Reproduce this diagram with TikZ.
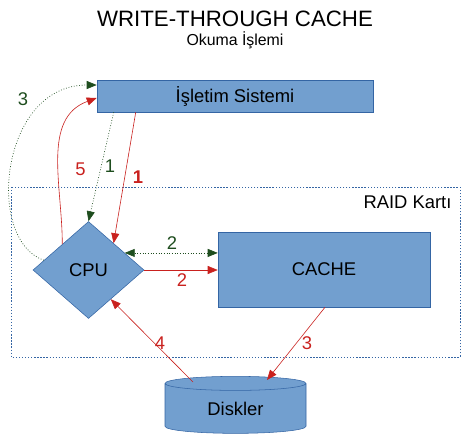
\documentclass[tikz,border=0pt]{standalone}
\usepackage{fontspec}
\setmainfont{Liberation Sans}
\usetikzlibrary{shapes.geometric,arrows.meta,calc}
\definecolor{kutudolgu}{HTML}{729FCF}
\definecolor{kutucizgi}{HTML}{3465A4}
\definecolor{okkirmizi}{HTML}{C9211E}
\definecolor{okyesil}{HTML}{1E4D1E}
\tikzset{
  blok/.style={draw=kutucizgi, fill=kutudolgu, inner sep=0pt, font=\fontsize{13.8}{16}\selectfont},
  etiket/.style={inner sep=0pt, font=\fontsize{13.8}{16}\selectfont},
  ucgen/.style={-{Triangle[length=7.5pt,width=6pt]}},
  kirmizi/.style={draw=okkirmizi, line width=0.45pt, ucgen},
  yesil/.style={draw=okyesil, line width=0.5pt, dash pattern=on 0.6pt off 1.4pt, ucgen}
}
\begin{document}
\begin{tikzpicture}[x=0.75pt,y=0.75pt]
    \useasboundingbox (0,0) rectangle (469,-447);
    %baslik
    \node[inner sep=0pt, font=\fontsize{16.7}{20}\selectfont] (baslik) at (235,-18.5) {WRITE-THROUGH CACHE};
    \node[inner sep=0pt, font=\fontsize{11.9}{14}\selectfont] (altbaslik) at (235,-40) {Okuma İşlemi};
    %kutular
    \draw[kutucizgi, line width=0.6pt, dash pattern=on 1pt off 1.3pt] (11,-187) rectangle (460,-357);
    \node[etiket] (raid) at (407.5,-202) {RAID Kartı};
    \node[blok, minimum width=207pt, minimum height=24pt] (os) at (235,-96) {İşletim Sistemi};
    \node[blok, minimum width=159pt, minimum height=56.25pt] (cache) at (324,-269.5) {CACHE};
    \node[blok, diamond, aspect=1.14, minimum width=83.25pt, minimum height=72.75pt] (cpu) at (88.5,-270) {CPU};
    \node[blok, cylinder, shape border rotate=90, aspect=0.25, minimum width=105.75pt, minimum height=42.75pt] (disk) at (235.5,-408.5) {\raisebox{-2.25pt}{Diskler}};
    %oklar
    \draw[yesil] ($(os.south west)+(17,0)$) -- (cpu.north);
    \draw[kirmizi] ($(os.south west)+(39,0)$) -- ($(cpu.north)!0.45!(cpu.east)$);
    \draw[kirmizi] ($(cpu.west)!0.53!(cpu.north)$) to[out=90,in=200] ($(os.west)+(0,-2)$);
    \draw[yesil] ($(cpu.west)!0.2!(cpu.north)$) .. controls (-15,-240) and (0,-85) .. ($(os.west)+(0,11)$);
    \coordinate (iki) at ($(cpu.north)!0.65!(cpu.east)$);
    \draw[yesil, {Triangle[length=7.5pt,width=6pt]}-{Triangle[length=7.5pt,width=6pt]}] (iki) -- (iki -| cache.west);
    \draw[kirmizi] (cpu.east) -- (cpu.east -| cache.west);
    \draw[kirmizi] ($(cache.south)+(1,0)$) -- ($(disk.center)+(31.5,28.5)$);
    \draw[kirmizi] ($(disk.center)+(-42.5,26.5)$) -- ($(cpu.east)!0.6!(cpu.south)$);
    %numaralar
    \node[etiket, text=okyesil] (y1) at (110,-166) {1};
    \node[etiket, text=okkirmizi, font=\fontsize{13.8}{16}\selectfont\bfseries] (k1) at (138,-177) {1};
    \node[etiket, text=okkirmizi] (k5) at (80.5,-169.5) {5};
    \node[etiket, text=okyesil] (y3) at (23,-99.5) {3};
    \node[etiket, text=okyesil] (y2) at (172,-243.5) {2};
    \node[etiket, text=okkirmizi] (k2) at (182,-280) {2};
    \node[etiket, text=okkirmizi] (k4) at (160,-343.5) {4};
    \node[etiket, text=okkirmizi] (k3) at (307,-343.5) {3};
\end{tikzpicture}
\end{document}
